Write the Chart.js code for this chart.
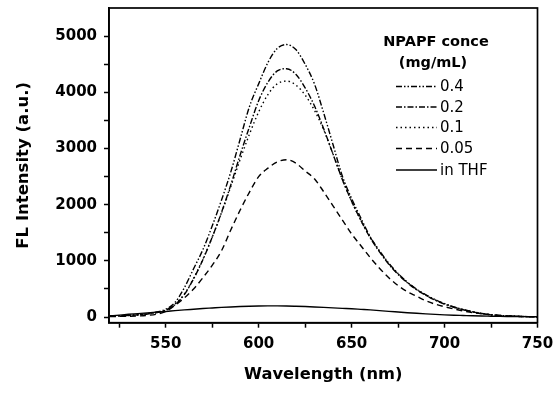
<!DOCTYPE html>
<html><head><meta charset="utf-8">
<script src="https://cdn.jsdelivr.net/npm/chart.js@4/dist/chart.umd.min.js"></script>
<style>html,body{margin:0;padding:0;background:#fff}#wrap{width:557px;height:394px;position:relative}</style>
</head><body><div id="wrap"><canvas id="c" width="557" height="394"></canvas></div>
<script>
const wavelengths = [520,525,530,535,540,545,550,555,560,565,570,575,580,585,590,595,600,605,610,615,620,625,630,635,640,645,650,655,660,665,670,675,680,685,690,695,700,705,710,715,720,725,730,735,740,745,750];
const conc04 = [20,25,32,42,60,90,140,260,520,860,1200,1620,2080,2580,3160,3740,4150,4530,4780,4850,4760,4500,4150,3630,3070,2510,2110,1760,1430,1180,960,775,620,495,395,310,240,180,135,95,65,42,28,18,12,8,5];
const conc02 = [20,25,30,40,55,80,120,220,400,680,1020,1420,1860,2350,2880,3380,3850,4180,4380,4420,4320,4080,3760,3350,2900,2450,2060,1720,1410,1160,940,760,610,485,385,300,230,175,130,92,62,40,26,17,11,7,5];
const conc01 = [15,20,28,38,52,78,125,230,410,690,1030,1420,1850,2320,2800,3250,3650,3960,4150,4200,4130,3950,3680,3330,2900,2450,2060,1720,1420,1170,950,770,620,490,390,305,235,178,132,95,64,42,27,18,12,8,5];
const conc005 = [10,12,15,20,30,50,100,210,340,500,700,920,1180,1550,1900,2220,2500,2650,2760,2800,2740,2600,2460,2230,1980,1730,1480,1270,1060,870,700,560,450,370,290,230,185,145,110,80,60,40,28,18,12,8,5];
const inTHF = [20,35,50,62,75,88,100,115,128,140,152,162,172,180,187,193,197,199,200,198,193,187,180,172,163,155,148,138,128,115,102,90,78,67,57,48,40,33,28,23,19,16,13,11,9,8,7];
const seriesLabels = ['0.4','0.2','0.1','0.05','in THF'];
const legendTitle = ['NPAPF conce','(mg/mL)'];
const xTickValues = [525,550,575,600,625,650,675,700,725,750];
const yTickValues = [0,500,1000,1500,2000,2500,3000,3500,4000,4500,5000];
const xTitle = 'Wavelength (nm)';
const yTitle = 'FL Intensity (a.u.)';

const seriesValues = [conc04, conc02, conc01, conc005, inTHF];
const dashes = [[6,2,1.5,2,1.5,2],[6,2,1.5,2],[1.5,3],[6,4],[]];

const datasets = seriesValues.map((arr, i) => ({
  label: seriesLabels[i],
  data: wavelengths.map((w, j) => ({x: w, y: arr[j]})),
  borderColor: '#000',
  borderWidth: 1.4,
  borderDash: dashes[i],
  pointRadius: 0,
  fill: false,
  cubicInterpolationMode: 'monotone'
}));

const frameAndLegend = {
  id: 'frameAndLegend',
  afterDraw(chart) {
    const ctx = chart.ctx, a = chart.chartArea;
    ctx.save();
    ctx.strokeStyle = '#000';
    ctx.lineWidth = 1.7;
    ctx.setLineDash([]);
    ctx.strokeRect(a.left, a.top, a.right - a.left, a.bottom - a.top);
    ctx.fillStyle = '#000';
    ctx.textBaseline = 'middle';
    ctx.textAlign = 'center';
    ctx.font = 'bold 14.5px "DejaVu Sans"';
    ctx.fillText(legendTitle[0], 436, 42);
    ctx.fillText(legendTitle[1], 433, 63);
    ctx.font = '15px "DejaVu Sans"';
    ctx.textAlign = 'left';
    const rows = [86.5, 107, 127.5, 148.5, 170];
    chart.data.datasets.forEach((ds, i) => {
      const y = rows[i];
      ctx.setLineDash(ds.borderDash);
      ctx.lineWidth = 1.4;
      ctx.beginPath();
      ctx.moveTo(396, y);
      ctx.lineTo(437, y);
      ctx.stroke();
      ctx.setLineDash([]);
      ctx.fillText(ds.label, 440, y + 1);
    });
    ctx.restore();
  }
};

new Chart(document.getElementById('c'), {
  type: 'line',
  data: { datasets },
  plugins: [frameAndLegend],
  options: {
    responsive: false,
    devicePixelRatio: 1,
    animation: false,
    layout: { padding: { left: 0, top: 8, right: 19.5, bottom: 0 } },
    plugins: { legend: { display: false }, tooltip: { enabled: false } },
    scales: {
      x: {
        type: 'linear',
        min: 519.5, max: 750,
        afterFit(s) { s.height = 71.3; s.paddingLeft = 0; s.paddingRight = 0; },
        afterBuildTicks(s) { s.ticks = xTickValues.map(v => ({value: v})); },
        ticks: {
          autoSkip: false, maxRotation: 0, padding: 7, color: '#000',
          font: { family: 'DejaVu Sans', weight: 'bold', size: 15 },
          callback: v => (v % 50 === 0 ? String(v) : '')
        },
        grid: { drawOnChartArea: false, drawTicks: true, tickLength: 5, tickColor: '#000', tickWidth: 1.5 },
        border: { display: true, color: '#000', width: 1.7 },
        title: { display: true, text: xTitle, color: '#000', padding: { top: 9.5, bottom: 9.5 },
          font: { family: 'DejaVu Sans', weight: 'bold', size: 16.3 } }
      },
      y: {
        type: 'linear',
        min: -100, max: 5500,
        afterFit(s) { s.width = 109; s.paddingTop = 0; s.paddingBottom = 0; },
        afterBuildTicks(s) { s.ticks = yTickValues.map(v => ({value: v})); },
        ticks: {
          autoSkip: false, padding: 7, color: '#000',
          font: { family: 'DejaVu Sans', weight: 'bold', size: 15 },
          callback: v => (v % 1000 === 0 ? String(v) : '')
        },
        grid: { drawOnChartArea: false, drawTicks: true, tickLength: 5, tickColor: '#000', tickWidth: 1.5 },
        border: { display: true, color: '#000', width: 1.7 },
        title: { display: true, text: yTitle, color: '#000', padding: { top: 13.4, bottom: 13.4 },
          font: { family: 'DejaVu Sans', weight: 'bold', size: 16.5 } }
      }
    }
  }
});
</script>
</body></html>
